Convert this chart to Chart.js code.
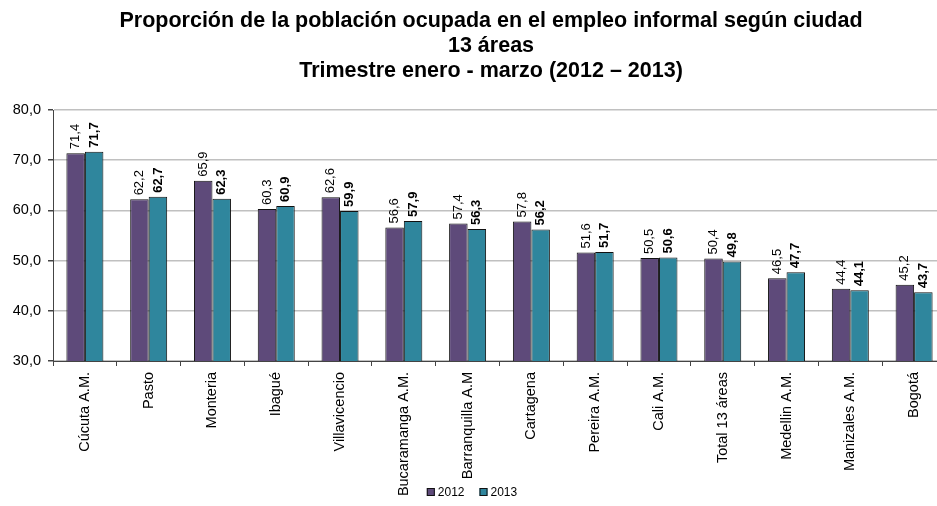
<!DOCTYPE html>
<html lang="es">
<head>
    <meta charset="UTF-8">
    <title>Empleo informal</title>
    <script src="https://cdn.jsdelivr.net/npm/chart.js"></script>
    <style>
        html, body { margin: 0; background: #fff; overflow: hidden; }
        canvas { display: block; }
    </style>
</head>
<body>
    <!-- o grafico original esta cortado a direita: o canvas passa um pouco da janela -->
    <canvas id="grafico" width="947" height="506"></canvas>
<script>
    var ciudades = ["Cúcuta A.M.", "Pasto", "Monteria", "Ibagué", "Villavicencio", "Bucaramanga A.M.",
        "Barranquilla A.M", "Cartagena", "Pereira A.M.", "Cali A.M.", "Total 13 áreas", "Medellin A.M.",
        "Manizales A.M.", "Bogotá"];
    var valores2012 = [71.4, 62.2, 65.9, 60.3, 62.6, 56.6, 57.4, 57.8, 51.6, 50.5, 50.4, 46.5, 44.4, 45.2];
    var valores2013 = [71.7, 62.7, 62.3, 60.9, 59.9, 57.9, 56.3, 56.2, 51.7, 50.6, 49.8, 47.7, 44.1, 43.7];
    var titulo = ["Proporción de la población ocupada en el empleo informal según ciudad",
        "13 áreas", "Trimestre enero - marzo (2012 – 2013)"];

    var fonte = "'Liberation Sans', Arial, sans-serif";

    function formatar(v) {
        return v.toFixed(1).replace('.', ',');
    }

    // titulo em tres linhas
    var pluginTitulo = {
        id: 'tituloCentro',
        afterDraw: function (chart) {
            var ctx = chart.ctx;
            var cx = 491;
            var ys = [27, 52, 77];
            ctx.save();
            ctx.fillStyle = '#000';
            ctx.font = 'bold 21.5px ' + fonte;
            ctx.textAlign = 'center';
            ctx.textBaseline = 'alphabetic';
            for (var i = 0; i < titulo.length; i++) {
                ctx.fillText(titulo[i], cx, ys[i]);
            }
            ctx.restore();
        }
    };

    // legenda embaixo, sobreposta aos rotulos do eixo como no original
    var pluginLegenda = {
        id: 'legendaBaixo',
        afterDraw: function (chart) {
            var ctx = chart.ctx;
            var ds = chart.data.datasets;
            var espaco = 15;
            ctx.save();
            ctx.font = '12px ' + fonte;
            ctx.textBaseline = 'middle';
            var larguras = ds.map(function (d) { return 11 + ctx.measureText(d.label).width; });
            var total = larguras.reduce(function (a, b) { return a + b; }, 0) + espaco * (ds.length - 1);
            var x = 472 - total / 2;
            var y = 492;
            ds.forEach(function (d, i) {
                ctx.fillStyle = d.backgroundColor;
                ctx.fillRect(x, y - 4, 8, 8);
                ctx.strokeStyle = '#111';
                ctx.lineWidth = 1;
                ctx.strokeRect(x + 0.5, y - 3.5, 7, 7);
                ctx.fillStyle = '#000';
                ctx.fillText(d.label, x + 11, y + 1);
                x += larguras[i] + espaco;
            });
            ctx.restore();
        }
    };

    // rotulos verticais em cima das barras
    var pluginRotulos = {
        id: 'rotulos',
        afterDatasetsDraw: function (chart) {
            var ctx = chart.ctx;
            ctx.save();
            ctx.fillStyle = '#000';
            ctx.textAlign = 'left';
            ctx.textBaseline = 'middle';
            chart.data.datasets.forEach(function (ds, i) {
                var meta = chart.getDatasetMeta(i);
                ctx.font = (i == 1 ? 'bold ' : '') + '13px ' + fonte;
                meta.data.forEach(function (barra, j) {
                    ctx.save();
                    ctx.translate(barra.x, barra.y - 4);
                    ctx.rotate(-Math.PI / 2);
                    ctx.fillText(formatar(ds.data[j]), 0, 0);
                    ctx.restore();
                });
            });
            ctx.restore();
        }
    };

    new Chart(document.getElementById('grafico'), {
        type: 'bar',
        data: {
            labels: ciudades,
            datasets: [{
                label: '2012',
                data: valores2012,
                backgroundColor: '#5E4A7A',
                borderColor: '#111',
                borderWidth: 1
            }, {
                label: '2013',
                data: valores2013,
                backgroundColor: '#2F869D',
                borderColor: '#111',
                borderWidth: 1
            }]
        },
        options: {
            responsive: false,
            animation: false,
            devicePixelRatio: 1,
            layout: {
                padding: { top: 110, left: 0, right: 1, bottom: 0 }
            },
            datasets: {
                bar: { categoryPercentage: 0.58, barPercentage: 1 }
            },
            plugins: {
                title: { display: false },
                tooltip: { enabled: false },
                legend: { display: false }
            },
            scales: {
                x: {
                    afterFit: function (escala) { escala.height = 145; },
                    grid: { drawOnChartArea: false, tickLength: 5, tickColor: '#444', offset: true },
                    border: { color: '#444' },
                    ticks: {
                        font: { family: fonte, size: 14.5 },
                        color: '#000',
                        padding: 6,
                        minRotation: 90,
                        maxRotation: 90,
                        autoSkip: false
                    }
                },
                y: {
                    min: 30,
                    max: 80,
                    afterFit: function (escala) { escala.width = 53; },
                    grid: { color: '#c0c0c0', lineWidth: 1.5, tickLength: 5, tickColor: '#444' },
                    border: { color: '#444' },
                    ticks: {
                        stepSize: 10,
                        font: { family: fonte, size: 14.5 },
                        color: '#000',
                        padding: 7,
                        callback: function (v) { return formatar(v); }
                    }
                }
            }
        },
        plugins: [pluginTitulo, pluginLegenda, pluginRotulos]
    });
</script>
</body>
</html>
